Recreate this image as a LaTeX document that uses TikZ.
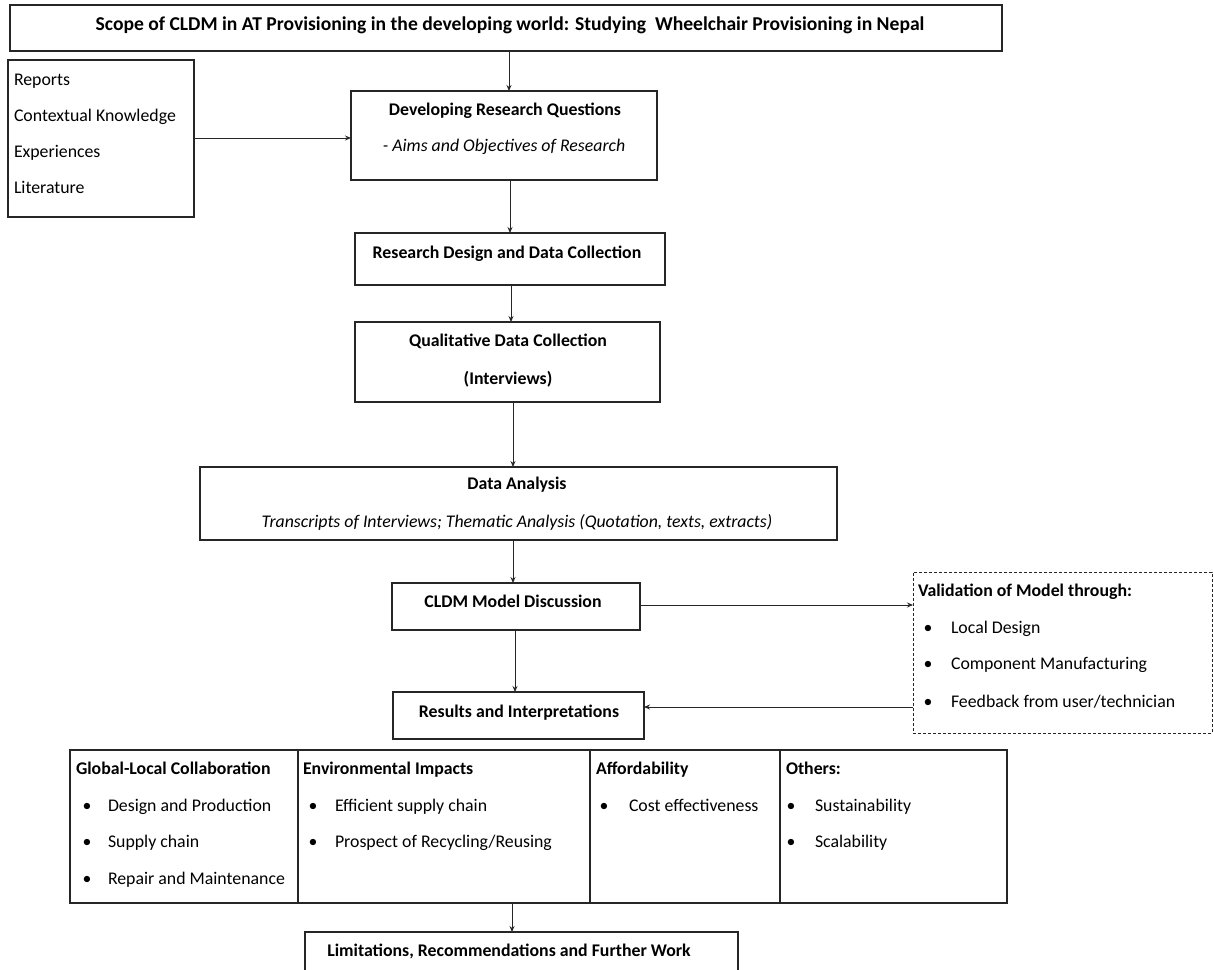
\documentclass[tikz,border=0pt]{standalone}
\usepackage{fontspec}
\setmainfont{Carlito}
\usetikzlibrary{arrows.meta}
\begin{document}
\begin{tikzpicture}[x=1pt,y=-1pt,
  every node/.style={font=\fontsize{17.8}{21}\selectfont, inner sep=0pt, outer sep=0pt},
  box/.style={draw=black!85, line width=1.1pt, anchor=north west},
  dbox/.style={box, dash pattern=on 3pt off 2pt, line width=0.9pt},
  lbl/.style={yshift=-4pt},
  hd/.style={lbl, font=\fontsize{17.8}{21}\selectfont\bfseries, anchor=mid},
  hdl/.style={lbl, font=\fontsize{17.8}{21}\selectfont\bfseries, anchor=mid west},
  it/.style={lbl, font=\fontsize{17.8}{21}\selectfont\itshape, anchor=mid},
  txt/.style={lbl, anchor=mid west},
  bul/.style={lbl, anchor=mid},
  arr/.style={draw=black!85, line width=0.9pt, -{Stealth[length=6pt,width=5pt]}}]
\useasboundingbox (0,0) rectangle (1214,969);
\fill[white] (0,0) rectangle (1214,969);

% boxes
\node[box, minimum width=992pt, minimum height=46pt] (title) at (10,5) {};
\node[box, minimum width=186pt, minimum height=157pt] (src) at (8,60) {};
\node[box, minimum width=306pt, minimum height=89pt] (devrq) at (351,91) {};
\node[box, minimum width=310pt, minimum height=52pt] (rddc) at (355,233) {};
\node[box, minimum width=305pt, minimum height=80pt] (qdc) at (355,322) {};
\node[box, minimum width=637pt, minimum height=73pt] (da) at (200,467) {};
\node[box, minimum width=248pt, minimum height=47pt] (cldm) at (392,583) {};
\node[box, minimum width=251pt, minimum height=47pt] (ri) at (393,692) {};
\node[dbox, minimum width=299pt, minimum height=161pt] (valid) at (913,572) {};
\node[box, minimum width=937pt, minimum height=153pt] (tab) at (70,750) {};
\node[box, minimum width=433pt, minimum height=50pt] (lim) at (305,932) {};

% column rules of the findings table
\coordinate (c1) at (298,0);
\coordinate (c2) at (590,0);
\coordinate (c3) at (780,0);
\foreach \c in {c1,c2,c3}
  \draw[draw=black!85, line width=1.1pt] (tab.north -| \c) -- (tab.south -| \c);

% texts
\node[hd, font=\fontsize{19.6}{23}\selectfont\bfseries] (ttitle) at (510,24) {Scope of CLDM in AT Provisioning in the developing world: Studying\ \ Wheelchair Provisioning in Nepal};

\node[txt] (s1) at (14,79) {Reports};
\node[txt] (s2) at (14,115) {Contextual Knowledge};
\node[txt] (s3) at (14,151) {Experiences};
\node[txt] (s4) at (14,187) {Literature};

\node[hd] (tdev) at (505,109) {Developing Research Questions};
\node[it] (tdev2) at (504,145) {- Aims and Objectives of Research};

\node[hd] (trd) at (507,252) {Research Design and Data Collection};

\node[hd] (tq1) at (508,340) {Qualitative Data Collection};
\node[hd] (tq2) at (508,378) {(Interviews)};

\node[hd] (tda1) at (517,483) {Data Analysis};
\node[it] (tda2) at (517,521) {Transcripts of Interviews; Thematic Analysis (Quotation, texts, extracts)};

\node[hd] (tcl) at (513,601) {CLDM Model Discussion};
\node[hd] (tri) at (519,711) {Results and Interpretations};

\node[hdl] (tv) at (918,590) {Validation of Model through:};
\foreach \y/\t [count=\i] in {627/Local Design, 663/Component Manufacturing, 701/Feedback from user\slash technician}{
  \node[bul] (vb\i) at (928,\y) {•};
  \node[txt] (vt\i) at (951,\y) {\t};
}

\node[hdl] (h1) at (76,768) {Global-Local Collaboration};
\node[hdl] (h2) at (303,768) {Environmental Impacts};
\node[hdl] (h3) at (596,768) {Affordability};
\node[hdl] (h4) at (786,768) {Others:};

\foreach \y/\t [count=\i] in {805/Design and Production, 841/Supply chain, 878/Repair and Maintenance}{
  \node[bul] (ab\i) at (87,\y) {•};
  \node[txt] (at\i) at (108,\y) {\t};
}
\foreach \y/\t [count=\i] in {805/Efficient supply chain, 841/Prospect of Recycling\slash Reusing}{
  \node[bul] (bb\i) at (313,\y) {•};
  \node[txt] (bt\i) at (335,\y) {\t};
}
\node[bul] (cb1) at (604,805) {•};
\node[txt] (ct1) at (629,805) {Cost effectiveness};
\foreach \y/\t [count=\i] in {805/Sustainability, 841/Scalability}{
  \node[bul] (db\i) at (791,\y) {•};
  \node[txt] (dt\i) at (815,\y) {\t};
}

\node[hd] (tlim) at (509,950) {Limitations, Recommendations and Further Work};

% connectors
\coordinate (x1) at (509,0);
\coordinate (x2) at (510,0);
\coordinate (x3) at (511,0);
\coordinate (x4) at (513,0);
\coordinate (x5) at (515,0);
\coordinate (x6) at (512,0);
\coordinate (y1) at (0,138);
\coordinate (y2) at (0,605);
\coordinate (y3) at (0,707);
\draw[arr] (title.south -| x1) -- (devrq.north -| x1);
\draw[arr] (devrq.south -| x2) -- (rddc.north -| x2);
\draw[arr] (rddc.south -| x3) -- (qdc.north -| x3);
\draw[arr] (qdc.south -| x4) -- (da.north -| x4);
\draw[arr] (da.south -| x4) -- (cldm.north -| x4);
\draw[arr] (cldm.south -| x5) -- (ri.north -| x5);
\draw[arr] (tab.south -| x6) -- (lim.north -| x6);
\draw[arr] (src.east |- y1) -- (devrq.west |- y1);
\draw[arr] (cldm.east |- y2) -- (valid.west |- y2);
\draw[arr] (valid.west |- y3) -- (ri.east |- y3);
\end{tikzpicture}
\end{document}
